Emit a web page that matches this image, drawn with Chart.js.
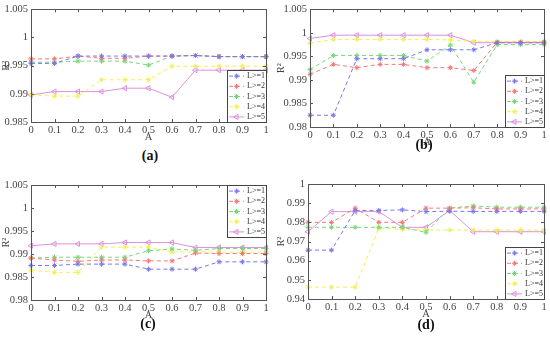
<!DOCTYPE html>
<html>
<head>
<meta charset="utf-8">
<script src="https://cdn.jsdelivr.net/npm/chart.js@4.4.0/dist/chart.umd.min.js"></script>
<style>
  body { margin: 0; background: #fff; width: 550px; height: 343px; position: relative; overflow: hidden; }
  canvas { position: absolute; }
  .cap { position: absolute; font: bold 14px "Liberation Serif", serif; color: #111; transform: translateX(-50%); }
</style>
</head>
<body>
<canvas id="ca" width="275" height="145" style="left:0;top:0"></canvas>
<canvas id="cb" width="275" height="150" style="left:275px;top:0"></canvas>
<canvas id="cc" width="275" height="153" style="left:0;top:170px"></canvas>
<canvas id="cd" width="275" height="152" style="left:275px;top:170px"></canvas>
<div class="cap" style="left:150px;top:148px">(a)</div>
<div class="cap" style="left:424px;top:137px">(b)</div>
<div class="cap" style="left:148px;top:316px">(c)</div>
<div class="cap" style="left:426px;top:317px">(d)</div>
<script>
// x categories (A) and series names
const A = ['0', '0.1', '0.2', '0.3', '0.4', '0.5', '0.6', '0.7', '0.8', '0.9', '1'];
const names = ['L>=1', 'L>=2', 'L>=3', 'L>=4', 'L>=5'];

// panel (a)
const a1 = [0.9954, 0.9954, 0.9967, 0.9967, 0.9967, 0.9967, 0.9967, 0.9968, 0.9966, 0.9966, 0.9966];
const a2 = [0.9962, 0.9962, 0.9967, 0.9963, 0.9963, 0.9967, 0.9967, 0.9968, 0.9966, 0.9966, 0.9966];
const a3 = [0.9956, 0.9956, 0.9958, 0.9958, 0.9958, 0.9951, 0.9967, 0.9968, 0.9966, 0.9966, 0.9966];
const a4 = [0.9898, 0.9896, 0.9896, 0.9925, 0.9925, 0.9925, 0.9949, 0.9949, 0.9949, 0.9949, 0.9949];
const a5 = [0.9898, 0.9904, 0.9904, 0.9904, 0.9910, 0.9910, 0.9894, 0.9942, 0.9942, 0.9942, 0.9942];
const yTicksA = [0.985, 0.99, 0.995, 1, 1.005];

// panel (b)
const b1 = [0.9825, 0.9825, 0.9945, 0.9945, 0.9945, 0.9964, 0.9964, 0.9964, 0.9979, 0.9979, 0.9979];
const b2 = [0.9912, 0.9933, 0.9926, 0.9933, 0.9933, 0.9926, 0.9926, 0.9920, 0.9980, 0.9980, 0.9980];
const b3 = [0.9922, 0.9952, 0.9952, 0.9952, 0.9952, 0.9940, 0.9974, 0.9895, 0.9975, 0.9975, 0.9975];
const b4 = [0.9978, 0.9986, 0.9986, 0.9986, 0.9986, 0.9986, 0.9985, 0.9982, 0.9982, 0.9982, 0.9982];
const b5 = [0.9988, 0.9995, 0.9995, 0.9995, 0.9995, 0.9995, 0.9995, 0.9979, 0.9979, 0.9979, 0.9979];
const yTicksB = [0.98, 0.985, 0.99, 0.995, 1, 1.005];

// panel (c)
const c1 = [0.9875, 0.9875, 0.9878, 0.9878, 0.9878, 0.9867, 0.9867, 0.9867, 0.9883, 0.9883, 0.9883];
const c2 = [0.9891, 0.9887, 0.9884, 0.9887, 0.9887, 0.9885, 0.9885, 0.9902, 0.9901, 0.9901, 0.9901];
const c3 = [0.9891, 0.9893, 0.9893, 0.9893, 0.9893, 0.9907, 0.9911, 0.9908, 0.9912, 0.9912, 0.9912];
const c4 = [0.9865, 0.9860, 0.9860, 0.9915, 0.9915, 0.9915, 0.9904, 0.9905, 0.9904, 0.9904, 0.9904];
const c5 = [0.9918, 0.9922, 0.9922, 0.9922, 0.9925, 0.9925, 0.9925, 0.9914, 0.9914, 0.9914, 0.9914];
const yTicksC = [0.98, 0.985, 0.99, 0.995, 1, 1.005];

// panel (d)
const d1 = [0.9655, 0.9655, 0.9862, 0.9862, 0.9865, 0.9856, 0.9858, 0.9857, 0.9857, 0.9857, 0.9857];
const d2 = [0.9800, 0.9800, 0.9874, 0.9800, 0.9800, 0.9874, 0.9874, 0.9876, 0.9870, 0.9870, 0.9870];
const d3 = [0.9774, 0.9774, 0.9774, 0.9774, 0.9774, 0.9748, 0.9874, 0.9886, 0.9879, 0.9879, 0.9879];
const d4 = [0.9462, 0.9462, 0.9462, 0.9769, 0.9764, 0.9760, 0.9760, 0.9760, 0.9760, 0.9760, 0.9760];
const d5 = [0.9751, 0.9856, 0.9856, 0.9856, 0.9774, 0.9774, 0.9862, 0.9751, 0.9751, 0.9751, 0.9751];
const yTicksD = [0.94, 0.95, 0.96, 0.97, 0.98, 0.99, 1];

const colors = ['rgb(120,120,235)', 'rgb(245,120,120)', 'rgb(120,215,120)', 'rgb(240,240,90)', 'rgb(220,145,220)'];
const serif = '"Liberation Serif", "Times New Roman", serif';

// box around the plot + small inward ticks
const frame = {
  id: 'frame',
  afterDraw(chart) {
    const { ctx, chartArea: c, scales: { x, y } } = chart;
    ctx.save();
    ctx.strokeStyle = '#555';
    ctx.lineWidth = 1;
    ctx.strokeRect(Math.round(c.left) + 0.5, Math.round(c.top) + 0.5, Math.round(c.right - c.left), Math.round(c.bottom - c.top));
    ctx.beginPath();
    x.ticks.forEach((t, i) => {
      const px = Math.round(x.getPixelForTick(i)) + 0.5;
      ctx.moveTo(px, c.bottom); ctx.lineTo(px, c.bottom - 3);
      ctx.moveTo(px, c.top); ctx.lineTo(px, c.top + 3);
    });
    y.ticks.forEach((t, i) => {
      const py = Math.round(y.getPixelForTick(i)) + 0.5;
      ctx.moveTo(c.left, py); ctx.lineTo(c.left + 3, py);
      ctx.moveTo(c.right, py); ctx.lineTo(c.right - 3, py);
    });
    ctx.stroke();
    ctx.restore();
  }
};

// legend box drawn inside the plot area
const boxLegend = {
  id: 'boxLegend',
  afterDraw(chart, args, opts) {
    const { ctx, chartArea: c } = chart;
    const w = 39, rowH = 10.2, h = rowH * chart.data.datasets.length + 1;
    const x0 = c.right - w;
    const y0 = opts.corner === 'tr' ? c.top : c.bottom - h;
    ctx.save();
    ctx.fillStyle = '#fff';
    ctx.fillRect(x0, y0, w, h);
    ctx.strokeStyle = '#444';
    ctx.lineWidth = 1;
    ctx.strokeRect(Math.round(x0) + 0.5, Math.round(y0) + 0.5, w, h);
    ctx.font = '8px ' + serif;
    ctx.textBaseline = 'middle';
    chart.data.datasets.forEach((ds, i) => {
      const yy = y0 + rowH * i + rowH / 2 + 1;
      ctx.strokeStyle = ds.borderColor;
      ctx.setLineDash(ds.borderDash || []);
      ctx.beginPath();
      ctx.moveTo(x0 + 2, yy); ctx.lineTo(x0 + 17, yy);
      ctx.stroke();
      ctx.setLineDash([]);
      ctx.fillStyle = ds.pointBackgroundColor;
      Chart.helpers.drawPoint(ctx, {
        pointStyle: ds.pointStyle, rotation: ds.pointRotation || 0,
        radius: ds.pointRadius, borderWidth: 1
      }, x0 + 9.5, yy);
      ctx.fillStyle = '#333';
      ctx.fillText(ds.label, x0 + 20, yy);
    });
    ctx.restore();
  }
};

function makeChart(id, series, yTicks, pad, yWidth, corner) {
  const datasets = series.map((vals, i) => ({
    label: names[i],
    data: vals,
    borderColor: colors[i],
    backgroundColor: colors[i],
    borderWidth: 1,
    borderDash: i < 4 ? [4, 3] : [],
    pointStyle: i < 4 ? 'star' : 'triangle',
    pointRotation: i < 4 ? 0 : -90,
    pointRadius: i < 4 ? 2.5 : 3,
    pointBorderWidth: 1,
    pointBackgroundColor: i < 4 ? colors[i] : 'rgba(0,0,0,0)',
    tension: 0
  }));
  new Chart(document.getElementById(id), {
    type: 'line',
    data: { labels: A, datasets: datasets },
    plugins: [frame, boxLegend],
    options: {
      responsive: false,
      animation: false,
      layout: { padding: pad },
      plugins: {
        legend: { display: false },
        tooltip: { enabled: false },
        boxLegend: { corner: corner }
      },
      scales: {
        x: {
          type: 'category',
          offset: false,
          grid: { display: false, drawTicks: false },
          border: { display: false },
          ticks: { font: { family: serif, size: 10.5 }, color: '#444', padding: 2, maxRotation: 0, autoSkip: false },
          title: { display: true, text: 'A', font: { family: serif, size: 10.5 }, color: '#444', padding: { top: 0, bottom: 1 } },
          afterFit: s => { s.height = 23; }
        },
        y: {
          min: yTicks[0],
          max: yTicks[yTicks.length - 1],
          afterBuildTicks: s => { s.ticks = yTicks.map(v => ({ value: v })); },
          grid: { display: false, drawTicks: false },
          border: { display: false },
          ticks: { font: { family: serif, size: 10.5 }, color: '#444', padding: 3, callback: v => String(v) },
          title: { display: true, text: 'R²', font: { family: serif, size: 10 }, color: '#444', padding: { top: 0, bottom: 0 } },
          afterFit: s => { s.width = yWidth; }
        }
      }
    }
  });
}

makeChart('ca', [a1, a2, a3, a4, a5], yTicksA, { top: 7, right: 9, left: 0, bottom: 0 }, 31, 'br');
makeChart('cb', [b1, b2, b3, b4, b5], yTicksB, { top: 9, right: 6, left: 0, bottom: 0 }, 35, 'br');
makeChart('cc', [c1, c2, c3, c4, c5], yTicksC, { top: 15, right: 9, left: 0, bottom: 0 }, 31, 'tr');
makeChart('cd', [d1, d2, d3, d4, d5], yTicksD, { top: 14, right: 6, left: 0, bottom: 0 }, 33, 'br');
</script>
</body>
</html>
